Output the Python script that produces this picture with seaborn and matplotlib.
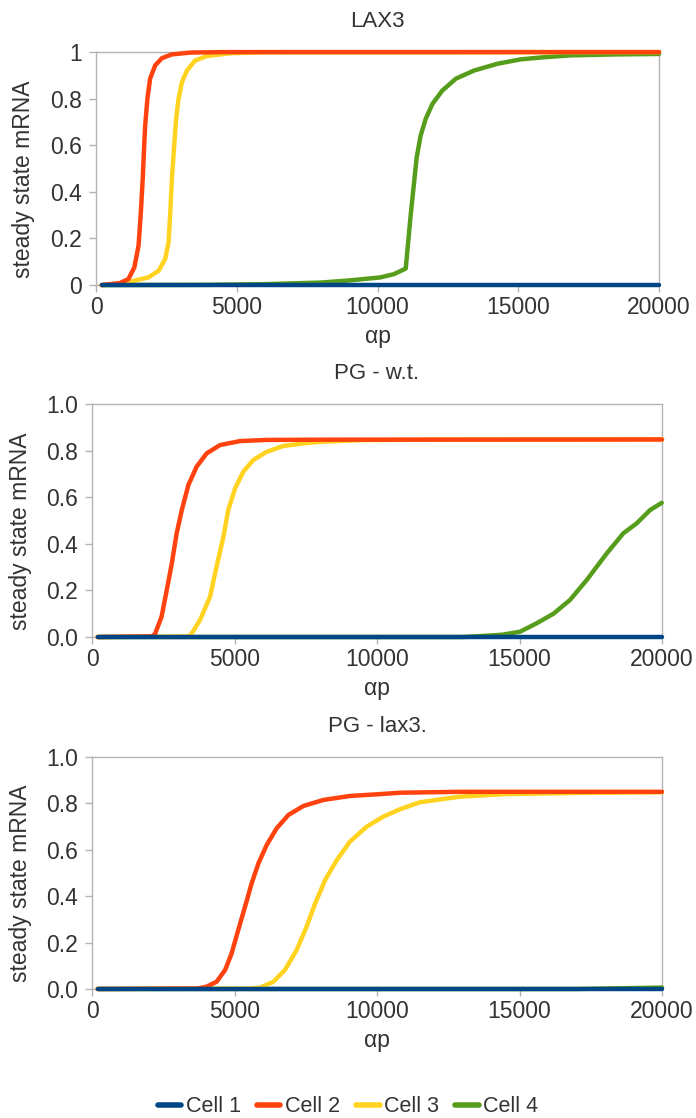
import matplotlib
matplotlib.use("Agg")
import matplotlib.pyplot as plt
import seaborn as sns

# ---- data ----
cells = ["Cell 1", "Cell 2", "Cell 3", "Cell 4"]
colors = ["#004586", "#ff420e", "#ffd320", "#579d1c"]
titles = ["LAX3", "PG - w.t.", "PG - lax3."]

x_ticks = [0, 5000, 10000, 15000, 20000]
x_tick_labels = ["0", "5000", "10000", "15000", "20000"]
y_ticks = [0, 0.2, 0.4, 0.6, 0.8, 1.0]
y_tick_labels_top = ["0", "0.2", "0.4", "0.6", "0.8", "1"]
y_tick_labels = ["0.0", "0.2", "0.4", "0.6", "0.8", "1.0"]

# LAX3
lax3_c1_x = [200, 20000]
lax3_c1_y = [0, 0]
lax3_c2_x = [200, 850, 1150, 1360, 1510, 1590, 1660, 1710, 1745, 1825, 1920, 2100, 2340, 2690, 3350, 4500, 20000]
lax3_c2_y = [0, 0.009, 0.026, 0.076, 0.17, 0.31, 0.46, 0.6, 0.685, 0.8, 0.886, 0.943, 0.974, 0.99, 0.998, 1.0, 1.0]
lax3_c3_x = [200, 900, 1330, 1860, 2220, 2455, 2575, 2635, 2695, 2775, 2845, 2930, 3050, 3230, 3520, 3940, 4770, 6000, 20000]
lax3_c3_y = [0, 0.005, 0.018, 0.033, 0.061, 0.112, 0.183, 0.31, 0.456, 0.6, 0.714, 0.8, 0.871, 0.921, 0.964, 0.983, 0.995, 0.999, 1.0]
lax3_c4_x = [200, 4000, 6000, 8000, 9000, 10100, 10580, 11000, 11175, 11390, 11530, 11710, 11950, 12300,
             12780, 13430, 14260, 15090, 15920, 16870, 18410, 20000]
lax3_c4_y = [0, 0.001, 0.004, 0.011, 0.02, 0.033, 0.047, 0.071, 0.3, 0.549, 0.642, 0.714, 0.778, 0.835,
             0.886, 0.921, 0.95, 0.969, 0.978, 0.986, 0.99, 0.992]

# PG - w.t.
wt_c1_x = [200, 20000]
wt_c1_y = [0, 0]
wt_c2_x = [200, 2100, 2210, 2440, 2620, 2800, 2970, 3150, 3380, 3670, 4020, 4490, 5190, 6130, 8000, 20000]
wt_c2_y = [0, 0.003, 0.013, 0.087, 0.2, 0.316, 0.445, 0.545, 0.652, 0.731, 0.788, 0.824, 0.841, 0.846, 0.847, 0.848]
wt_c3_x = [200, 3400, 3500, 3790, 4140, 4370, 4610, 4780, 5020, 5310, 5660, 6130, 6710, 7420, 8000, 9400, 12000, 20000]
wt_c3_y = [0, 0.003, 0.016, 0.073, 0.173, 0.302, 0.43, 0.545, 0.638, 0.71, 0.76, 0.795, 0.82, 0.831, 0.838, 0.845, 0.847, 0.848]
wt_c4_x = [200, 13000, 13610, 14400, 15020, 15600, 16190, 16770, 17360, 18060, 18640, 19110, 19580, 19990]
wt_c4_y = [0, 0.0, 0.004, 0.01, 0.023, 0.059, 0.1, 0.159, 0.245, 0.359, 0.445, 0.488, 0.545, 0.576]

# PG - lax3.
lx_c1_x = [200, 20000]
lx_c1_y = [0, 0]
lx_c2_x = [200, 3700, 4020, 4370, 4670, 4900, 5130, 5370, 5600, 5840, 6130, 6480, 6890, 7420, 8120, 9050,
           10100, 10810, 12910, 20000]
lx_c2_y = [0, 0.002, 0.01, 0.031, 0.082, 0.154, 0.254, 0.355, 0.455, 0.542, 0.621, 0.693, 0.75, 0.789, 0.815, 0.832,
           0.84, 0.846, 0.85, 0.85]
lx_c3_x = [200, 5500, 5900, 6360, 6770, 7180, 7530, 7830, 8180, 8590, 9050, 9640, 10220, 10810, 11510, 12910,
           14500, 17000, 20000]
lx_c3_y = [0, 0.002, 0.006, 0.031, 0.082, 0.168, 0.269, 0.369, 0.47, 0.556, 0.635, 0.7, 0.743, 0.775, 0.805, 0.829,
           0.84, 0.845, 0.848]
lx_c4_x = [200, 17000, 18500, 20000]
lx_c4_y = [0, 0, 0.003, 0.006]

panels = [
    [(lax3_c1_x, lax3_c1_y), (lax3_c2_x, lax3_c2_y), (lax3_c3_x, lax3_c3_y), (lax3_c4_x, lax3_c4_y)],
    [(wt_c1_x, wt_c1_y), (wt_c2_x, wt_c2_y), (wt_c3_x, wt_c3_y), (wt_c4_x, wt_c4_y)],
    [(lx_c1_x, lx_c1_y), (lx_c2_x, lx_c2_y), (lx_c3_x, lx_c3_y), (lx_c4_x, lx_c4_y)],
]

# ---- style ----
sns.set_style("white")
plt.rcParams['font.family'] = ['Liberation Sans', 'DejaVu Sans']
text_color = "#333333"
grey = "#b3b3b3"
fontsize = 16.5
lw = 3.2

fig = plt.figure(figsize=(6.96, 11.18), dpi=100)
positions = [
    [0.138, 0.745, 0.809, 0.2084],
    [0.1322, 0.4302, 0.819, 0.2084],
    [0.1322, 0.1154, 0.819, 0.2075],
]
ylabel_x = [-0.108, -0.105, -0.105]

# green, yellow, red, then blue on top
draw_order = [3, 2, 1, 0]

for p, series in enumerate(panels):
    ax = fig.add_axes(positions[p])
    for i in draw_order:
        xs, ys = series[i]
        sns.lineplot(x=xs, y=ys, color=colors[i], linewidth=lw, ax=ax,
                     label=cells[i], legend=False, clip_on=False, zorder=3 + (3 - i))
    ax.set_xlim(0, 20000)
    ax.set_ylim(0, 1)
    ax.set_xticks(x_ticks)
    ax.set_xticklabels(x_tick_labels)
    ax.set_yticks(y_ticks)
    ax.set_yticklabels(y_tick_labels_top if p == 0 else y_tick_labels)
    ax.tick_params(axis="both", direction="out", length=5, width=1, color=grey,
                   labelsize=fontsize, labelcolor=text_color)
    ax.tick_params(axis="x", pad=3)
    ax.tick_params(axis="y", pad=5)
    ax.tick_params(bottom=True, left=True)
    for s in ax.spines.values():
        s.set_color(grey)
        s.set_linewidth(1)
    ax.set_title(titles[p], fontsize=16, color=text_color, pad=18)
    ax.set_xlabel("αp", fontsize=fontsize, color=text_color, labelpad=4)
    ax.set_ylabel("steady state mRNA", fontsize=fontsize, color=text_color)
    ax.yaxis.set_label_coords(ylabel_x[p], 0.455)
    if p == 0:
        handles, labels = ax.get_legend_handles_labels()

order = [labels.index(c) for c in cells]
leg = fig.legend([handles[k] for k in order], [labels[k] for k in order],
                 loc="center", bbox_to_anchor=(0.5, 1 - 1107 / 1118), ncol=4,
                 frameon=False, fontsize=15.5, handlelength=1.1, handletextpad=0.2,
                 columnspacing=0.75, labelcolor=text_color)
for h in leg.get_lines():
    h.set_linewidth(4)

plt.savefig("out.png", dpi=100)
